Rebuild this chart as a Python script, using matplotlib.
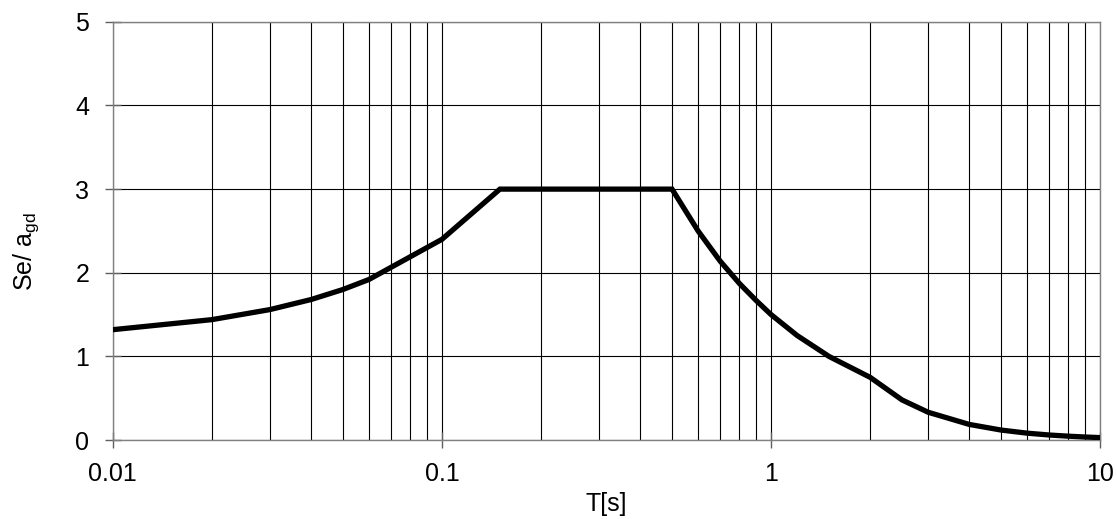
import matplotlib
matplotlib.use('Agg')
import matplotlib.pyplot as plt
from matplotlib.ticker import LogLocator, FixedLocator, NullFormatter

plt.rcParams['font.family'] = ['Liberation Sans', 'DejaVu Sans']

# spectrum points
T = [0.01, 0.02, 0.03, 0.04, 0.05, 0.06, 0.1, 0.15, 0.2, 0.3, 0.4, 0.5,
     0.6, 0.7, 0.8, 0.9, 1.0, 1.2, 1.5, 2.0, 2.5, 3.0, 4.0, 5.0, 6.0, 7.0,
     8.0, 9.0, 10.0]
Se = [1.32, 1.44, 1.56, 1.68, 1.80, 1.92, 2.40, 3.00, 3.00, 3.00, 3.00, 3.00,
      2.50, 2.14, 1.875, 1.67, 1.50, 1.25, 1.00, 0.75, 0.48, 0.333, 0.1875,
      0.12, 0.083, 0.061, 0.047, 0.037, 0.03]

x_ticks = [0.01, 0.1, 1, 10]
x_labels = ['0.01', '0.1', '1', '10']
y_ticks = [0, 1, 2, 3, 4, 5]

fig = plt.figure(figsize=(11.17, 5.19), dpi=100)
ax = fig.add_axes([0.101, 0.152, 0.884, 0.806])

ax.plot(T, Se, color='black', linewidth=3.8, solid_joinstyle='miter', zorder=3)

ax.set_xscale('log')
ax.set_xlim(0.01, 10)
ax.set_ylim(0, 5)
ax.xaxis.set_major_locator(FixedLocator(x_ticks))
ax.set_xticklabels(x_labels)
ax.xaxis.set_minor_locator(LogLocator(base=10, subs=range(2, 10)))
ax.xaxis.set_minor_formatter(NullFormatter())
ax.set_yticks(y_ticks)

ax.grid(True, which='both', color='black', linewidth=0.8)
for s in ax.spines.values():
    s.set_color('#808080')
    s.set_linewidth(1.0)

ax.tick_params(axis='both', which='major', direction='inout', length=12,
               width=1, color='#606060', labelsize=18)
ax.tick_params(axis='x', which='major', pad=10)
ax.tick_params(axis='y', which='major', pad=11)
ax.tick_params(axis='x', which='minor', length=0)

ax.set_xlabel('T[s]', fontsize=18, labelpad=4)
ax.set_ylabel('Se/ a$_{\\mathregular{gd}}$', fontsize=18)
ax.yaxis.set_label_coords(-0.073, 0.45)

fig.savefig('out.png', dpi=100)
